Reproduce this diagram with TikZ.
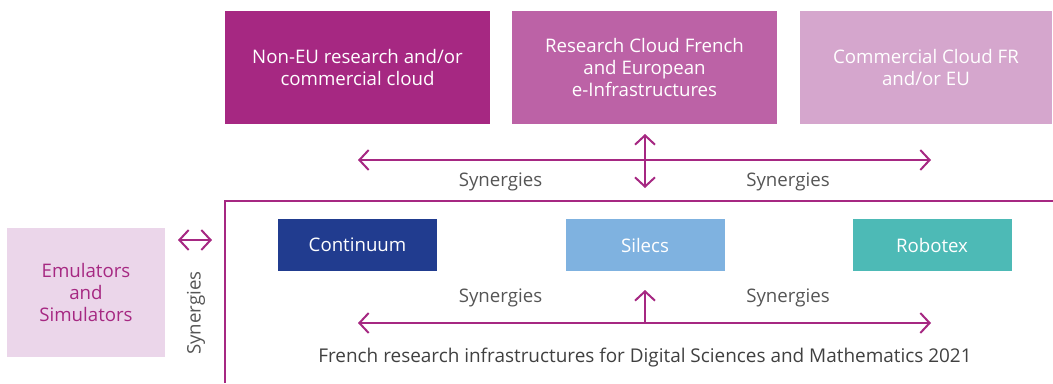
\documentclass[tikz,border=0pt]{standalone}
\usepackage{fontspec}
\setmainfont{Open Sans}
\usetikzlibrary{arrows.meta}
\definecolor{nonEU}{HTML}{A62882}
\definecolor{rescloud}{HTML}{BC62A6}
\definecolor{comcloud}{HTML}{D5A6CD}
\definecolor{continuum}{HTML}{213C8F}
\definecolor{silecs}{HTML}{7FB2E0}
\definecolor{robotex}{HTML}{4DBAB6}
\definecolor{emul}{HTML}{EBD6EA}
\definecolor{link}{HTML}{A62882}
\definecolor{syntext}{HTML}{555555}
\tikzset{
  bigbox/.style={fill=#1, text=white, minimum width=198.75pt, minimum height=84.75pt, align=center, font=\fontsize{14}{16.5}\selectfont},
  smallbox/.style={fill=#1, text=white, minimum width=119.25pt, minimum height=39pt, font=\fontsize{14}{16.5}\selectfont},
  synlabel/.style={text=syntext, font=\fontsize{14}{14}\selectfont},
  syntip/.tip={Straight Barb[length=7pt,width=15pt]},
  synarrow/.style={draw=link, line width=1.5pt, syntip-syntip}
}
\begin{document}
\begin{tikzpicture}[x=0.75pt, y=-0.75pt]
		\useasboundingbox (0,0) rectangle (1053,383);
		
		% clouds
		\node[bigbox=nonEU] (noneu) at (357.5,67.5) {Non-EU research and/or\\commercial cloud};
		\node[bigbox=rescloud] (research) at (644.5,67.5) {Research Cloud French\\and European\\e-Infrastructures};
		\node[bigbox=comcloud, minimum width=189pt] (commercial) at (926,67.5) {Commercial Cloud FR\\and/or EU};
		
		\coordinate (topL) at (358,160);
		\coordinate (topR) at (931,160);
		\coordinate (topU) at (645,134);
		\coordinate (topD) at (645,188);
		\draw[synarrow] (topL) -- (topR);
		\draw[synarrow] (topU) -- (topD);
		\node[synlabel] (syn1) at (500.5,182) {Synergies};
		\node[synlabel] (syn2) at (788,182) {Synergies};
		
		% frame
		\draw[link, line width=1.5pt] (225,383) -- (225,201) -- (1053,201);
		
		% infrastructures
		\node[smallbox=continuum] (cont) at (357.5,245) {Continuum};
		\node[smallbox=silecs] (sil) at (645,245) {Silecs};
		\node[smallbox=robotex] (robo) at (932,245) {Robotex};
		
		\node[synlabel] (syn3) at (500.5,298) {Synergies};
		\node[synlabel] (syn4) at (788,298) {Synergies};
		\coordinate (botL) at (358,323);
		\coordinate (botR) at (931,323);
		\coordinate (botM) at (645,323);
		\coordinate (botU) at (645,290);
		\draw[synarrow] (botL) -- (botR);
		\draw[synarrow, -syntip] (botM) -- (botU);
		\node[text=black!75, font=\fontsize{14.2}{15}\selectfont] (infra) at (645,358) {French research infrastructures for Digital Sciences and Mathematics 2021};
		
		% emulators
		\node[fill=emul, text=link, minimum width=118.5pt, minimum height=96.75pt, align=center, font=\fontsize{14}{16.5}\selectfont] (emu) at (86,292.5) {Emulators\\and\\Simulators};
		\coordinate (emuL) at (178,240);
		\coordinate (emuR) at (212,240);
		\draw[synarrow] (emuL) -- (emuR);
		\node[synlabel, rotate=90] (syn5) at (196,313) {Synergies};
		
	\end{tikzpicture}
\end{document}
